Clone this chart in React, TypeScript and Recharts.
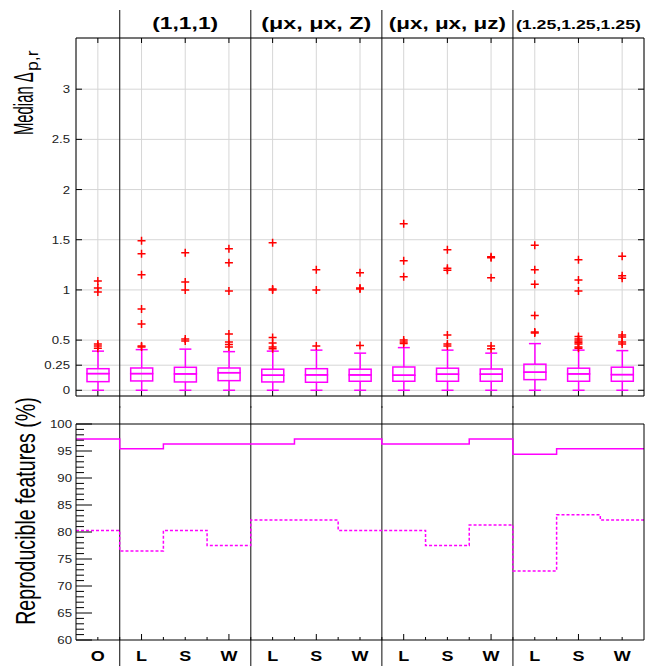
import React from "react";
import {
    ComposedChart,
    LineChart,
    Bar,
    Scatter,
    Line,
    XAxis,
    YAxis,
    CartesianGrid,
    ReferenceLine,
} from "recharts";

const categories = ["O", "L1", "S1", "W1", "L2", "S2", "W2", "L3", "S3", "W3", "L4", "S4", "W4"];
const tickLabels = ["O", "L", "S", "W", "L", "S", "W", "L", "S", "W", "L", "S", "W"];
const groupStarts = ["L1", "L2", "L3", "L4"];
const groupMiddles = ["S1", "S2", "S3", "S4"];
const groupTitles = ["(1,1,1)", "(μx, μx, Z)", "(μx, μx, μz)", "(1.25,1.25,1.25)"];

// box plot stats
const whiskerLow = [0, 0, 0, 0, 0, 0, 0, 0, 0, 0, 0, 0, 0];
const q1 = [0.086, 0.093, 0.083, 0.096, 0.083, 0.08, 0.09, 0.09, 0.09, 0.09, 0.106, 0.09, 0.09];
const median = [0.166, 0.166, 0.163, 0.175, 0.15, 0.153, 0.153, 0.15, 0.16, 0.16, 0.18, 0.163, 0.156];
const q3 = [0.215, 0.222, 0.229, 0.222, 0.21, 0.215, 0.21, 0.232, 0.22, 0.212, 0.26, 0.22, 0.23];
const whiskerHigh = [0.39, 0.405, 0.41, 0.385, 0.39, 0.4, 0.37, 0.425, 0.4, 0.37, 0.465, 0.4, 0.395];
const outliers = [
    [1.09, 1.02, 0.98, 0.46, 0.44, 0.42],
    [1.49, 1.36, 1.15, 0.81, 0.66, 0.44, 0.43],
    [1.37, 1.08, 1.0, 0.51, 0.49],
    [1.41, 1.27, 0.99, 0.56, 0.48, 0.455, 0.43],
    [1.47, 1.01, 1.0, 0.525, 0.47, 0.43, 0.415],
    [1.2, 1.0, 0.44],
    [1.17, 1.02, 1.01, 0.445],
    [1.66, 1.29, 1.13, 0.5, 0.48, 0.465],
    [1.4, 1.215, 1.195, 0.55, 0.46, 0.44],
    [1.33, 1.32, 1.12, 0.44, 0.415],
    [1.445, 1.2, 1.057, 0.744, 0.58, 0.57],
    [1.3, 1.1, 0.99, 0.535, 0.51, 0.49, 0.475, 0.46, 0.43, 0.42],
    [1.335, 1.14, 1.115, 0.55, 0.53, 0.48, 0.46],
];

// reproducible features (%)
const reproSolid = [97.2, 95.4, 96.3, 96.3, 96.3, 97.2, 97.2, 96.3, 96.3, 97.2, 94.4, 95.4, 95.4];
const reproDashed = [80.3, 76.5, 80.3, 77.5, 82.2, 82.2, 80.3, 80.3, 77.5, 81.3, 72.8, 83.2, 82.2];

const topYTicks = [0, 0.25, 0.5, 1, 1.5, 2, 2.5, 3];
const bottomYTicks = Array.from({ length: 41 }, (_, i) => 60 + i);
const bottomXTicks = Array.from({ length: 25 }, (_, i) => 0.5 + i * 0.5);
const groupBounds = [1, 4, 7, 10];

const boxData = categories.map((id, i) => ({
    id,
    base: whiskerLow[i],
    lowW: q1[i] - whiskerLow[i],
    boxLo: median[i] - q1[i],
    boxHi: q3[i] - median[i],
    highW: whiskerHigh[i] - q3[i],
}));
const outlierData = categories.flatMap((id, i) => outliers[i].map((v) => ({ id, v })));
const stepData = Array.from({ length: 14 }, (_, i) => ({
    x: i,
    solid: reproSolid[Math.min(i, 12)],
    dashed: reproDashed[Math.min(i, 12)],
}));

const FONT = '"Liberation Sans", Arial, Helvetica, sans-serif';
const MAGENTA = "#ff00ff";
const headerLen = [66, 110, 117, 125];
const headerSize = [16, 16, 16, 12.5];

const Empty = () => <g />;

const LowWhisker = (p: any) => {
    const cx = p.x + p.width / 2;
    const yb = p.y + p.height;
    return (
        <g stroke={MAGENTA} strokeWidth={1.5}>
            <line x1={cx} x2={cx} y1={p.y} y2={yb} />
            <line x1={cx - 6} x2={cx + 6} y1={yb} y2={yb} />
        </g>
    );
};
const HighWhisker = (p: any) => {
    const cx = p.x + p.width / 2;
    return (
        <g stroke={MAGENTA} strokeWidth={1.5}>
            <line x1={cx} x2={cx} y1={p.y} y2={p.y + p.height} />
            <line x1={cx - 6} x2={cx + 6} y1={p.y} y2={p.y} />
        </g>
    );
};
const BoxHalf = (p: any) => (
    <rect x={p.x} y={p.y} width={p.width} height={p.height} fill="none" stroke={MAGENTA} strokeWidth={1.5} />
);
const Plus = (p: any) => (
    <path
        d={`M${p.cx - 4},${p.cy}H${p.cx + 4}M${p.cx},${p.cy - 4}V${p.cy + 4}`}
        stroke="#ff0000"
        strokeWidth={1.5}
    />
);

const numLabel = (x: number, y: number, v: any) => (
    <text
        transform={`translate(${x},${y + 4}) scale(1.15,1)`}
        textAnchor="end"
        fontSize={11.5}
        fill="#222"
        fontFamily={FONT}
    >
        {v}
    </text>
);

const TopLeftTick = ({ x, y, payload }: any) => (
    <g>
        <line x1={x} x2={x + 6} y1={y} y2={y} stroke="#000" />
        {numLabel(x - 6, y, payload.value)}
    </g>
);
const RightTick = ({ x, y }: any) => <line x1={x} x2={x - 6} y1={y} y2={y} stroke="#000" />;
const BottomCatTick = ({ x, y }: any) => <line x1={x} x2={x} y1={y} y2={y - 5} stroke="#000" />;
const TopCatTick = ({ x, y, payload }: any) => {
    const g = groupMiddles.indexOf(payload.value);
    return (
        <g>
            <line x1={x} x2={x} y1={y} y2={y + 5} stroke="#000" />
            {g >= 0 && (
                <text
                    x={x}
                    y={y - 9}
                    textAnchor="middle"
                    fontSize={headerSize[g]}
                    fontWeight="bold"
                    fontFamily={FONT}
                    fill="#000"
                    textLength={headerLen[g]}
                    lengthAdjust="spacingAndGlyphs"
                >
                    {groupTitles[g]}
                </text>
            )}
        </g>
    );
};
const ReproLeftTick = ({ x, y, payload }: any) => {
    const major = payload.value % 5 === 0;
    return (
        <g>
            <line x1={x} x2={x + (major ? 16 : 8)} y1={y} y2={y} stroke="#000" />
            {major && numLabel(x - 4, y, payload.value)}
        </g>
    );
};
const LetterTick = ({ x, y, payload }: any) => {
    const v = payload.value;
    const center = (v * 2) % 2 === 1;
    const major = center && (v - 1.5) % 2 === 0;
    return (
        <g>
            <line x1={x} x2={x} y1={y} y2={y - (major ? 6 : 3)} stroke="#000" />
            {center && (
                <text
                    transform={`translate(${x},${y + 21}) scale(1.2,1)`}
                    textAnchor="middle"
                    fontSize={15}
                    fontWeight="bold"
                    fontFamily={FONT}
                    fill="#000"
                >
                    {tickLabels[Math.floor(v)]}
                </text>
            )}
        </g>
    );
};

const MedianTitle = () => (
    <g fontFamily={FONT} fill="#000">
        <text transform="translate(33,135) rotate(-90) scale(0.53,1)" fontSize={28}>
            Median Δ
        </text>
        <text transform="translate(38,71) rotate(-90) scale(1.1,1)" fontSize={16}>
            p,r
        </text>
    </g>
);
// bottom chart svg starts at page y = 386
const ReproTitle = () => (
    <text
        transform="translate(35,125) rotate(-90) scale(0.7,1)"
        textAnchor="middle"
        fontSize={28}
        fontFamily={FONT}
        fill="#000"
    >
        Reproducible features (%)
    </text>
);

const divider = (h: number, top: number) => (p: any) =>
    <line x1={p.x1} x2={p.x1} y1={top} y2={h} stroke="#333" strokeWidth={1.2} />;

export default function App() {
    return (
        <div style={{ position: "absolute", left: 0, top: 0, width: 648, height: 666, background: "#fff" }}>
            <div style={{ position: "absolute", left: 0, top: 0 }}>
                <ComposedChart width={648} height={408} data={boxData} margin={{ top: 37, right: 3, bottom: 11, left: 0 }}>
                    <CartesianGrid stroke="#d6d6d6" strokeWidth={1} />
                    {groupStarts.map((g) => (
                        <ReferenceLine key={g} x={g} position="start" shape={divider(408, 10)} />
                    ))}
                    <Bar dataKey="base" stackId="b" barSize={22} shape={Empty} isAnimationActive={false} />
                    <Bar dataKey="lowW" stackId="b" barSize={22} shape={LowWhisker} isAnimationActive={false} />
                    <Bar dataKey="boxLo" stackId="b" barSize={22} shape={BoxHalf} isAnimationActive={false} />
                    <Bar dataKey="boxHi" stackId="b" barSize={22} shape={BoxHalf} isAnimationActive={false} />
                    <Bar dataKey="highW" stackId="b" barSize={22} shape={HighWhisker} isAnimationActive={false} />
                    <Scatter xAxisId="top" data={outlierData} dataKey="v" shape={Plus} isAnimationActive={false} />
                    <XAxis
                        dataKey="id"
                        type="category"
                        allowDuplicatedCategory={false}
                        height={1}
                        tickSize={0}
                        tickMargin={0}
                        interval={0}
                        tickLine={false}
                        axisLine={{ stroke: "#000" }}
                        tick={BottomCatTick}
                    />
                    <XAxis
                        xAxisId="top"
                        orientation="top"
                        dataKey="id"
                        type="category"
                        allowDuplicatedCategory={false}
                        height={1}
                        tickSize={0}
                        tickMargin={0}
                        interval={0}
                        tickLine={false}
                        axisLine={{ stroke: "#000" }}
                        tick={TopCatTick}
                    />
                    <YAxis
                        type="number"
                        domain={[-0.057, 3.51]}
                        allowDataOverflow
                        ticks={topYTicks}
                        width={76}
                        tickSize={0}
                        tickMargin={0}
                        interval={0}
                        tickLine={false}
                        axisLine={{ stroke: "#000" }}
                        tick={TopLeftTick}
                        label={MedianTitle}
                    />
                    <YAxis
                        yAxisId="right"
                        orientation="right"
                        type="number"
                        domain={[-0.057, 3.51]}
                        allowDataOverflow
                        ticks={topYTicks}
                        width={1}
                        tickSize={0}
                        tickMargin={0}
                        interval={0}
                        tickLine={false}
                        axisLine={{ stroke: "#000" }}
                        tick={RightTick}
                    />
                </ComposedChart>
            </div>
            <div style={{ position: "absolute", left: 0, top: 386 }}>
                <LineChart width={648} height={280} data={stepData} margin={{ top: 37, right: 3, bottom: 0, left: 0 }}>
                    {groupBounds.map((b) => (
                        <ReferenceLine key={b} x={b} shape={divider(280, 20)} />
                    ))}
                    <Line
                        type="stepAfter"
                        dataKey="solid"
                        stroke={MAGENTA}
                        strokeWidth={1.5}
                        dot={false}
                        isAnimationActive={false}
                    />
                    <Line
                        type="stepAfter"
                        dataKey="dashed"
                        stroke={MAGENTA}
                        strokeWidth={1.5}
                        strokeDasharray="3 2"
                        dot={false}
                        isAnimationActive={false}
                    />
                    <XAxis
                        dataKey="x"
                        type="number"
                        domain={[0, 13]}
                        allowDataOverflow
                        ticks={bottomXTicks}
                        height={26}
                        tickSize={0}
                        tickMargin={0}
                        interval={0}
                        tickLine={false}
                        axisLine={{ stroke: "#000" }}
                        tick={LetterTick}
                    />
                    <XAxis
                        xAxisId="top"
                        orientation="top"
                        type="number"
                        domain={[0, 13]}
                        height={1}
                        tick={false}
                        tickLine={false}
                        axisLine={{ stroke: "#000" }}
                    />
                    <YAxis
                        type="number"
                        domain={[60, 100]}
                        allowDataOverflow
                        ticks={bottomYTicks}
                        width={76}
                        tickSize={0}
                        tickMargin={0}
                        interval={0}
                        tickLine={false}
                        axisLine={{ stroke: "#000" }}
                        tick={ReproLeftTick}
                        label={ReproTitle}
                    />
                    <YAxis
                        yAxisId="right"
                        orientation="right"
                        type="number"
                        domain={[60, 100]}
                        width={1}
                        tick={false}
                        tickLine={false}
                        axisLine={{ stroke: "#000" }}
                    />
                </LineChart>
            </div>
        </div>
    );
}
